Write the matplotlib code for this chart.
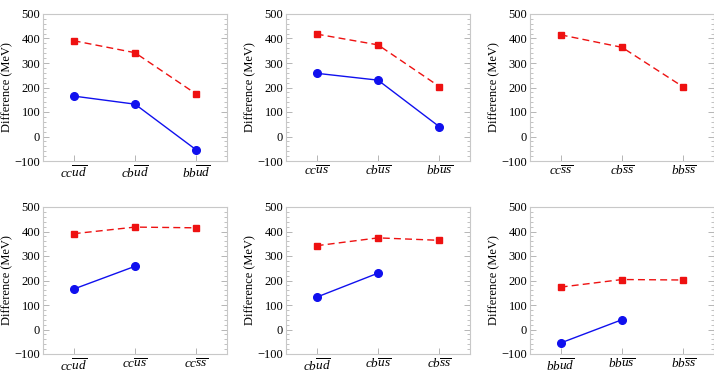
import matplotlib.pyplot as plt
from matplotlib.ticker import MultipleLocator

plt.rcParams['font.family'] = ['Liberation Serif', 'DejaVu Serif']
plt.rcParams['mathtext.fontset'] = 'custom'
plt.rcParams['mathtext.rm'] = 'Liberation Serif'
plt.rcParams['mathtext.it'] = 'Liberation Serif:italic'

# top row: vary heavy pair, bottom row: vary light antiquarks
labels_ud = [r'$cc\overline{ud}$', r'$cb\overline{ud}$', r'$bb\overline{ud}$']
labels_us = [r'$cc\overline{us}$', r'$cb\overline{us}$', r'$bb\overline{us}$']
labels_ss = [r'$cc\overline{ss}$', r'$cb\overline{ss}$', r'$bb\overline{ss}$']

red_ud = [391, 342, 173]
blue_ud = [165, 132, -55]
red_us = [418, 374, 204]
blue_us = [258, 230, 40]
red_ss = [415, 364, 202]

panels = [
    (labels_ud, red_ud, blue_ud),
    (labels_us, red_us, blue_us),
    (labels_ss, red_ss, None),
]
# bottom row built per heavy pair
for i in range(3):
    panels.append((
        [labels_ud[i], labels_us[i], labels_ss[i]],
        [red_ud[i], red_us[i], red_ss[i]],
        [blue_ud[i], blue_us[i]],
    ))

fig = plt.figure(figsize=(7.14, 3.75), dpi=100)
W, H = 714, 375
lefts = [43, 286, 530]
width = 184
rows = [(14, 161), (207, 354)]

frame = '#c8c8c8'
for k, (labs, red, blue) in enumerate(panels):
    r, c = divmod(k, 3)
    top, bot = rows[r]
    ax = fig.add_axes([lefts[c] / W, 1 - bot / H, width / W, (bot - top) / H])
    xs = list(range(len(red)))
    ax.plot(xs, red, '--', color='#ee1111', lw=1.0, dashes=(5, 3),
            marker='s', ms=4.5, mec='#ee1111', mfc='#ee1111')
    if blue is not None:
        ax.plot(list(range(len(blue))), blue, '-', color='#1010ee', lw=1.0,
                marker='o', ms=5.5, mec='#1010ee', mfc='#1010ee')
    ax.set_xlim(-0.5, 2.5)
    ax.set_ylim(-100, 500)
    ax.set_xticks([0, 1, 2])
    ax.set_xticklabels(labs, fontsize=9.5)
    ax.set_yticks(range(-100, 501, 100))
    ax.set_yticklabels(['\u2212100', '0', '100', '200', '300', '400', '500'], fontsize=9)
    ax.yaxis.set_minor_locator(MultipleLocator(20))
    ax.set_ylabel('Difference (MeV)', fontsize=9, labelpad=1)
    for s in ax.spines.values():
        s.set_color(frame)
        s.set_linewidth(0.8)
    ax.tick_params(axis='both', which='both', direction='in', color='#aaaaaa',
                   right=True, pad=2)
    ax.tick_params(axis='both', which='major', length=4, width=0.6)
    ax.tick_params(axis='y', which='minor', length=2, width=0.5)
    ax.tick_params(axis='x', which='major', pad=3)

fig.savefig('out.png', dpi=100)
